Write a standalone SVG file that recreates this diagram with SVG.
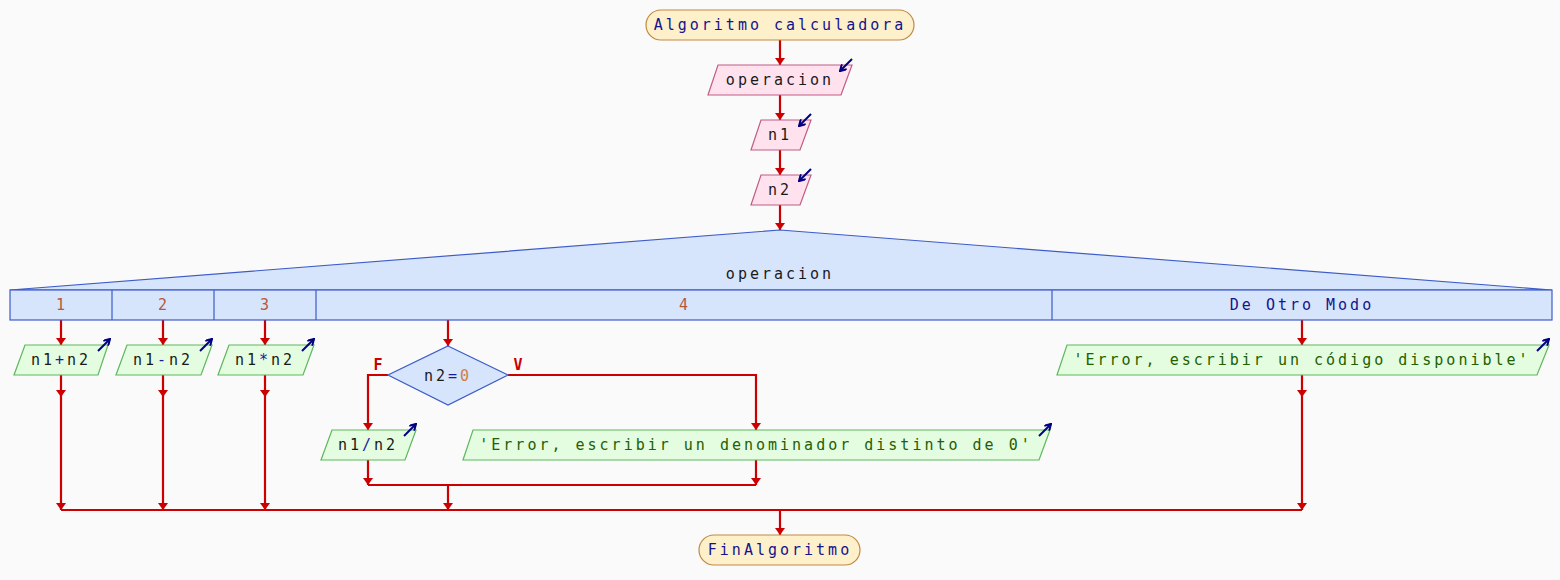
<svg xmlns="http://www.w3.org/2000/svg" width="1560" height="580" viewBox="0 0 1560 580">
<style>
text{font-family:"DejaVu Sans Mono","Liberation Mono",monospace;font-size:15px;letter-spacing:3px;text-anchor:middle}
.term{fill:#fff0cc;stroke:#c08a40;stroke-width:1.2}
.inp{fill:#ffe2ee;stroke:#c05c84;stroke-width:1.2}
.out{fill:#e4fce0;stroke:#5cb85c;stroke-width:1.2}
.sw{fill:#d6e4fc;stroke:#3c5cc8;stroke-width:1.2}
.con{fill:none;stroke:#cc0000;stroke-width:2.2}
.arr{stroke:#cc0000;stroke-width:2.2;fill:none;marker-end:url(#ah)}
.ico{stroke:#000080;stroke-width:2;fill:none;marker-end:url(#ih)}
.navy{fill:#14148c}
.blk{fill:#1a1a1a}
.grn{fill:#226000}
.num{fill:#b85838}
.lbl{fill:#cc0000;font-weight:bold;letter-spacing:0}
</style>
<defs>
<marker id="ah" viewBox="0 0 7 10" markerWidth="7" markerHeight="10" refX="7" refY="5" orient="auto" markerUnits="userSpaceOnUse">
<path d="M0,0 L7,5 L0,10 z" fill="#cc0000"/>
</marker>
<marker id="ih" viewBox="0 0 8 8" markerWidth="8" markerHeight="8" refX="7" refY="4" orient="auto" markerUnits="userSpaceOnUse">
<path d="M1,0.5 L7,4 L1,7.5" fill="none" stroke="#000080" stroke-width="2"/>
</marker>
</defs>
<rect width="1560" height="580" fill="#fafafa"/>

<g id="connectors">
<line class="arr" x1="780" y1="40" x2="780" y2="65"/>
<line class="arr" x1="780" y1="95" x2="780" y2="120"/>
<line class="arr" x1="780" y1="150" x2="780" y2="175"/>
<line class="arr" x1="780" y1="205" x2="780" y2="230"/>
<line class="arr" x1="61" y1="320" x2="61" y2="345"/>
<line class="arr" x1="163" y1="320" x2="163" y2="345"/>
<line class="arr" x1="265" y1="320" x2="265" y2="345"/>
<line class="arr" x1="448" y1="320" x2="448" y2="346"/>
<line class="arr" x1="1302" y1="320" x2="1302" y2="345"/>
<line class="arr" x1="61" y1="375" x2="61" y2="397"/>
<line class="arr" x1="61" y1="397" x2="61" y2="510"/>
<line class="arr" x1="163" y1="375" x2="163" y2="397"/>
<line class="arr" x1="163" y1="397" x2="163" y2="510"/>
<line class="arr" x1="265" y1="375" x2="265" y2="397"/>
<line class="arr" x1="265" y1="397" x2="265" y2="510"/>
<line class="arr" x1="1302" y1="375" x2="1302" y2="397"/>
<line class="arr" x1="1302" y1="397" x2="1302" y2="510"/>
<polyline class="arr" points="388,375 368,375 368,430"/>
<polyline class="arr" points="508,375 756,375 756,430"/>
<line class="arr" x1="368" y1="460" x2="368" y2="485"/>
<line class="arr" x1="756" y1="460" x2="756" y2="485"/>
<line class="con" x1="368" y1="485" x2="756" y2="485"/>
<line class="arr" x1="448" y1="485" x2="448" y2="510"/>
<line class="con" x1="61" y1="510" x2="1302" y2="510"/>
<line class="arr" x1="780" y1="510" x2="780" y2="535"/>
<text class="lbl" x="378" y="370">F</text>
<text class="lbl" x="518" y="370">V</text>
</g>

<g id="start">
<rect class="term" x="646" y="10" width="268" height="30" rx="15"/>
<text class="navy" x="780" y="30">Algoritmo calculadora</text>
</g>

<g id="read-operacion">
<polygon class="inp" points="718,65 852,65 841,95 708,95"/>
<text class="blk" x="780" y="85">operacion</text>
<line class="ico" x1="852" y1="59" x2="840" y2="71"/>
</g>

<g id="read-n1">
<polygon class="inp" points="761,120 811,120 800,150 751,150"/>
<text class="blk" x="780" y="140">n1</text>
<line class="ico" x1="811" y1="114" x2="799" y2="126"/>
</g>

<g id="read-n2">
<polygon class="inp" points="761,175 811,175 800,205 751,205"/>
<text class="blk" x="780" y="195">n2</text>
<line class="ico" x1="811" y1="169" x2="799" y2="181"/>
</g>

<g id="switch">
<polygon class="sw" points="10,290 780,230 1552,290"/>
<rect class="sw" x="10" y="290" width="1542" height="30"/>
<line class="sw" x1="112" y1="290" x2="112" y2="320"/>
<line class="sw" x1="214" y1="290" x2="214" y2="320"/>
<line class="sw" x1="316" y1="290" x2="316" y2="320"/>
<line class="sw" x1="1052" y1="290" x2="1052" y2="320"/>
<text class="blk" x="780" y="279">operacion</text>
<text class="num" x="62" y="310">1</text>
<text class="num" x="164" y="310">2</text>
<text class="num" x="266" y="310">3</text>
<text class="num" x="685" y="310">4</text>
<text class="navy" x="1302" y="310">De Otro Modo</text>
</g>

<g id="out-suma">
<polygon class="out" points="25,345 108,345 98,375 14,375"/>
<text class="blk" x="61" y="365">n1<tspan fill="#1a1aa0">+</tspan>n2</text>
<line class="ico" x1="98" y1="351" x2="110" y2="339"/>
</g>

<g id="out-resta">
<polygon class="out" points="127,345 212,345 201,375 116,375"/>
<text class="blk" x="163" y="365">n1<tspan fill="#1a1aa0">-</tspan>n2</text>
<line class="ico" x1="200" y1="351" x2="212" y2="339"/>
</g>

<g id="out-mult">
<polygon class="out" points="229,345 314,345 303,375 218,375"/>
<text class="blk" x="265" y="365">n1<tspan fill="#1a1aa0">*</tspan>n2</text>
<line class="ico" x1="302" y1="351" x2="314" y2="339"/>
</g>

<g id="cond-n2">
<polygon class="sw" points="448,346 508,375 448,405 388,375"/>
<text class="blk" x="448" y="381">n2<tspan fill="#1a1aa0">=</tspan><tspan fill="#d08040">0</tspan></text>
</g>

<g id="out-div">
<polygon class="out" points="332,430 416,430 405,460 321,460"/>
<text class="blk" x="368" y="450">n1<tspan fill="#1a1aa0">/</tspan>n2</text>
<line class="ico" x1="404" y1="436" x2="416" y2="424"/>
</g>

<g id="out-error-den">
<polygon class="out" points="473,430 1050,430 1039,460 463,460"/>
<text class="grn" x="756" y="450">'Error, escribir un denominador distinto de 0'</text>
<line class="ico" x1="1039" y1="436" x2="1051" y2="424"/>
</g>

<g id="out-error-cod">
<polygon class="out" points="1067,345 1549,345 1537,375 1057,375"/>
<text class="grn" x="1302" y="365">'Error, escribir un código disponible'</text>
<line class="ico" x1="1537" y1="351" x2="1549" y2="339"/>
</g>

<g id="end">
<rect class="term" x="699" y="535" width="161" height="30" rx="15"/>
<text class="navy" x="780" y="555">FinAlgoritmo</text>
</g>
</svg>
